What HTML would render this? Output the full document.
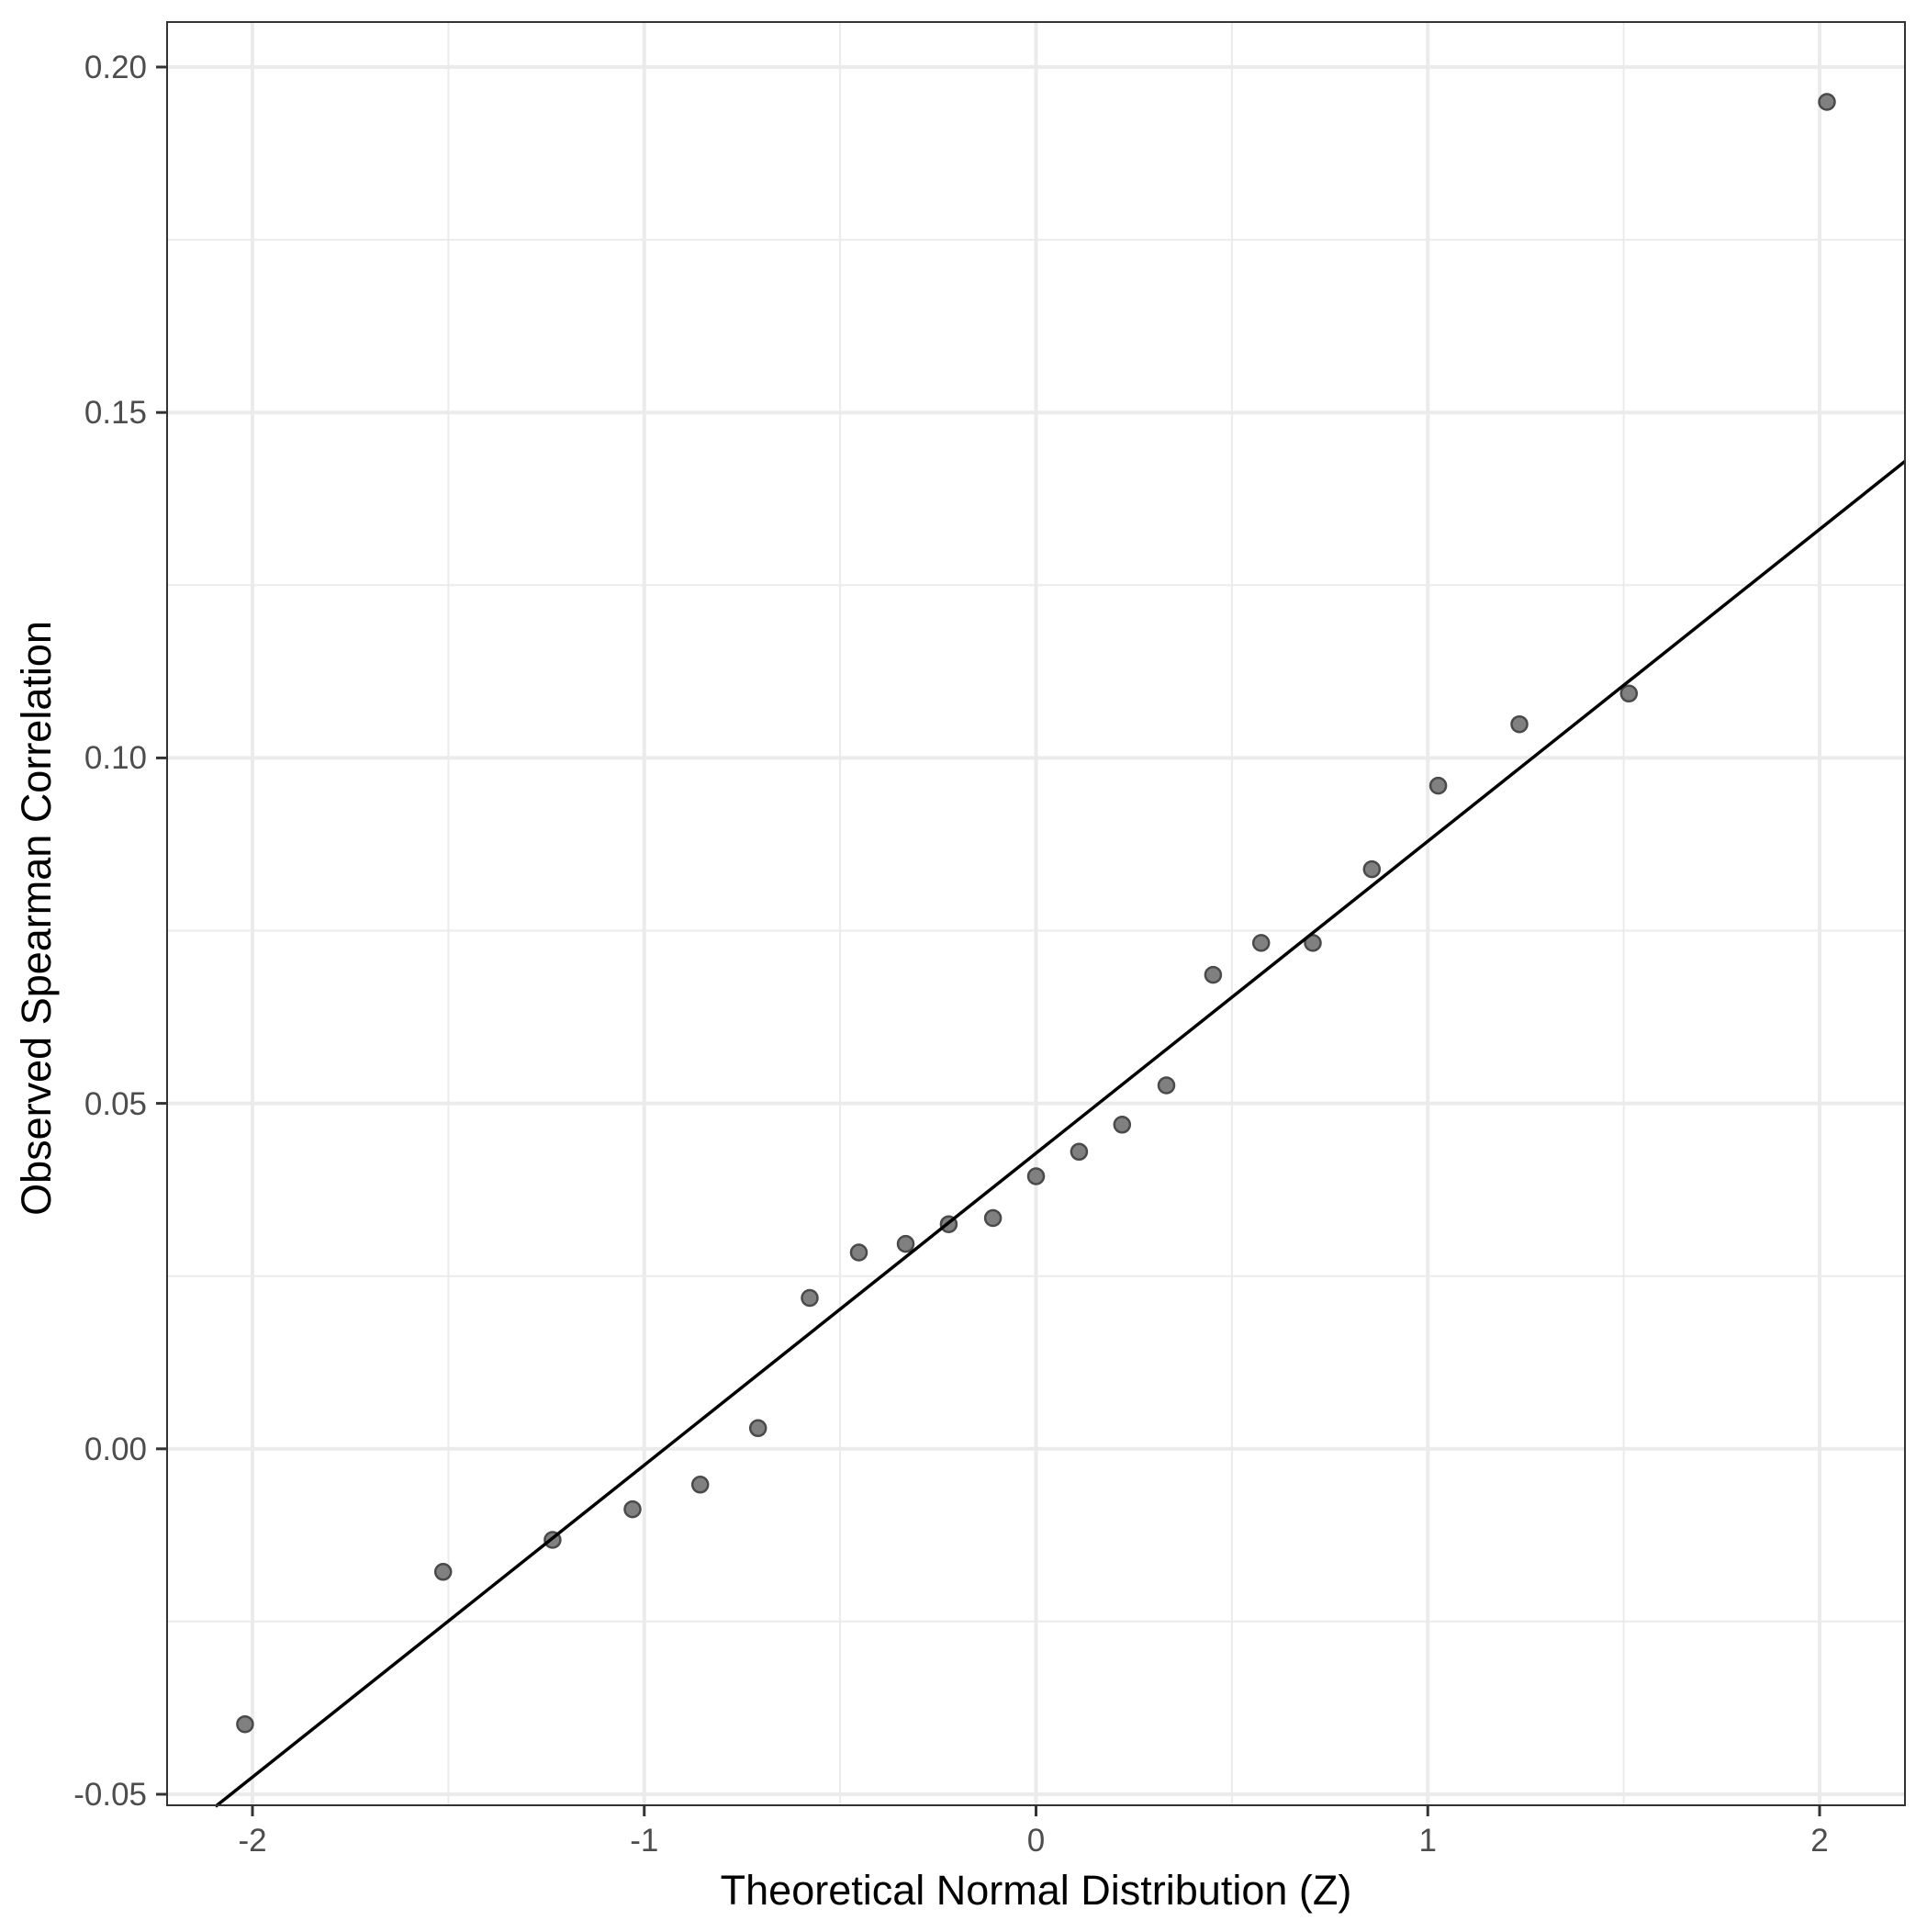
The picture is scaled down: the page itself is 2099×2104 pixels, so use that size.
<!DOCTYPE html>
<html><head><style>body{margin:0;background:#fff}</style></head><body>
<svg width="2099" height="2099" xmlns="http://www.w3.org/2000/svg" font-family="Liberation Sans, Arial, sans-serif">
<rect width="2099" height="2099" fill="#fff"/>
<g stroke="#ebebeb" stroke-width="2">
<line x1="182" x2="2075" y1="261.1" y2="261.1"/><line x1="182" x2="2075" y1="637.3" y2="637.3"/><line x1="182" x2="2075" y1="1013.5" y2="1013.5"/><line x1="182" x2="2075" y1="1389.7" y2="1389.7"/><line x1="182" x2="2075" y1="1765.9" y2="1765.9"/>
<line y1="24" y2="1966" x1="488.4" x2="488.4"/><line y1="24" y2="1966" x1="915.1" x2="915.1"/><line y1="24" y2="1966" x1="1341.9" x2="1341.9"/><line y1="24" y2="1966" x1="1768.6" x2="1768.6"/>
</g>
<g stroke="#ebebeb" stroke-width="4">
<line x1="182" x2="2075" y1="73" y2="73"/><line x1="182" x2="2075" y1="449.2" y2="449.2"/><line x1="182" x2="2075" y1="825.4" y2="825.4"/><line x1="182" x2="2075" y1="1201.6" y2="1201.6"/><line x1="182" x2="2075" y1="1577.8" y2="1577.8"/><line x1="182" x2="2075" y1="1954" y2="1954"/>
<line y1="24" y2="1966" x1="275" x2="275"/><line y1="24" y2="1966" x1="701.75" x2="701.75"/><line y1="24" y2="1966" x1="1128.5" x2="1128.5"/><line y1="24" y2="1966" x1="1555.25" x2="1555.25"/><line y1="24" y2="1966" x1="1982" x2="1982"/>
</g>
<g fill="#808080" stroke="#4a4a4a" stroke-width="2.5">
<circle cx="266.9" cy="1877.7" r="8.5"/><circle cx="482.7" cy="1711.8" r="8.5"/><circle cx="601.9" cy="1677" r="8.5"/><circle cx="689" cy="1643.6" r="8.5"/><circle cx="762.7" cy="1616.8" r="8.5"/><circle cx="825.7" cy="1555.3" r="8.5"/><circle cx="882" cy="1413.5" r="8.5"/><circle cx="935.5" cy="1364" r="8.5"/><circle cx="986.5" cy="1354.6" r="8.5"/><circle cx="1033.4" cy="1333.2" r="8.5"/><circle cx="1081.6" cy="1326.5" r="8.5"/><circle cx="1128.5" cy="1281" r="8.5"/><circle cx="1175.4" cy="1254.3" r="8.5"/><circle cx="1222.3" cy="1224.8" r="8.5"/><circle cx="1270.5" cy="1182" r="8.5"/><circle cx="1321.4" cy="1061.6" r="8.5"/><circle cx="1373.7" cy="1026.9" r="8.5"/><circle cx="1430" cy="1026.9" r="8.5"/><circle cx="1494.3" cy="946.6" r="8.5"/><circle cx="1566.6" cy="855.6" r="8.5"/><circle cx="1655" cy="788.7" r="8.5"/><circle cx="1774.3" cy="755.3" r="8.5"/><circle cx="1990" cy="111" r="8.5"/>
</g>
<line x1="234.8" y1="1967.3" x2="2075" y2="502.4" stroke="#000" stroke-width="3.5"/>
<rect x="182" y="24" width="1893" height="1942" fill="none" stroke="#333" stroke-width="2"/>
<g stroke="#333" stroke-width="3">
<line x1="170" x2="182" y1="73" y2="73"/><line x1="170" x2="182" y1="449.2" y2="449.2"/><line x1="170" x2="182" y1="825.4" y2="825.4"/><line x1="170" x2="182" y1="1201.6" y2="1201.6"/><line x1="170" x2="182" y1="1577.8" y2="1577.8"/><line x1="170" x2="182" y1="1954" y2="1954"/>
<line y1="1966" y2="1978" x1="275" x2="275"/><line y1="1966" y2="1978" x1="701.75" x2="701.75"/><line y1="1966" y2="1978" x1="1128.5" x2="1128.5"/><line y1="1966" y2="1978" x1="1555.25" x2="1555.25"/><line y1="1966" y2="1978" x1="1982" x2="1982"/>
</g>
<g fill="#4d4d4d" font-size="35" text-anchor="end">
<text x="160" y="85">0.20</text><text x="160" y="461">0.15</text><text x="160" y="837">0.10</text><text x="160" y="1214">0.05</text><text x="160" y="1590">0.00</text><text x="160" y="1966">-0.05</text>
</g>
<g fill="#4d4d4d" font-size="35" text-anchor="middle">
<text x="275" y="2016">-2</text><text x="701.75" y="2016">-1</text><text x="1128.5" y="2016">0</text><text x="1555.25" y="2016">1</text><text x="1982" y="2016">2</text>
</g>
<text x="1128.5" y="2074" font-size="45" text-anchor="middle" fill="#000">Theoretical Normal Distribution (Z)</text>
<text transform="translate(55,1000) rotate(-90)" font-size="45" text-anchor="middle" fill="#000">Observed Spearman Correlation</text>
</svg>
</body></html>
